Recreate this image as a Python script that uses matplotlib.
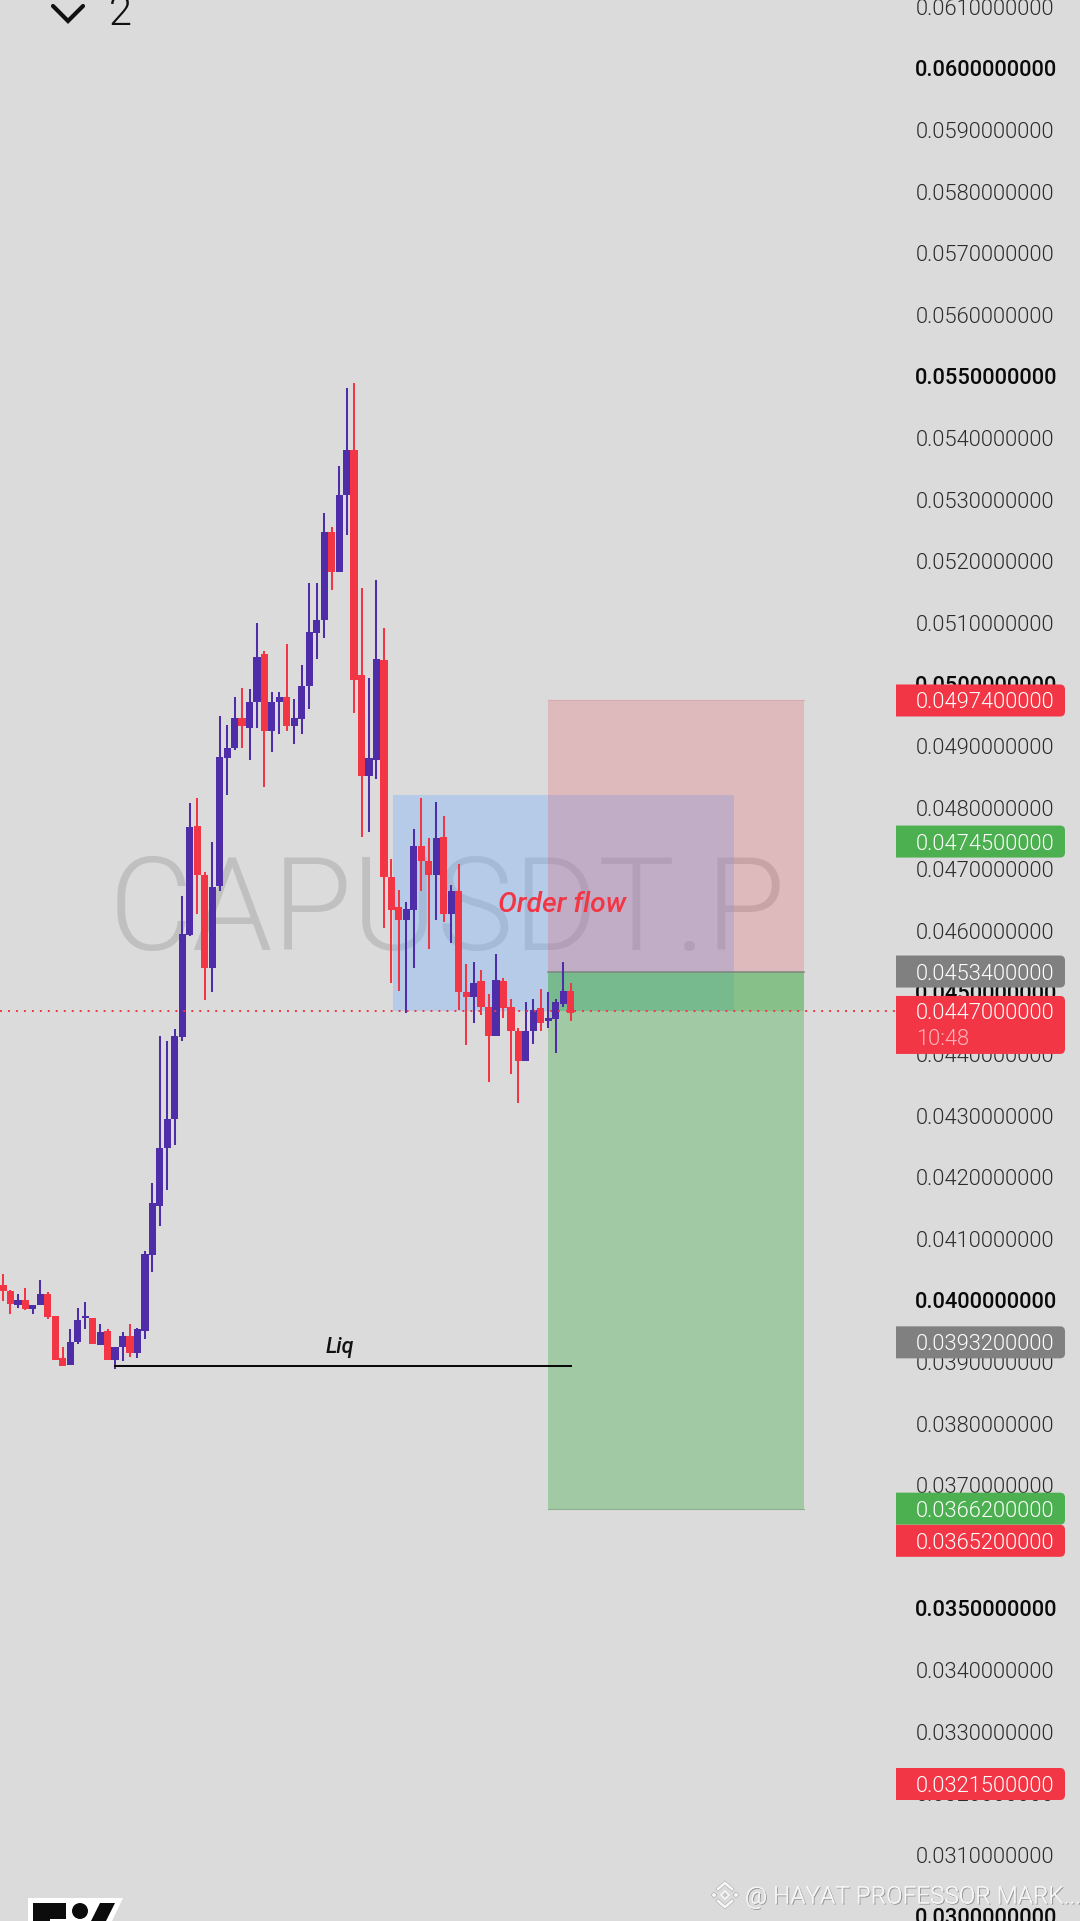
import numpy as np
import matplotlib
matplotlib.use("Agg")
import matplotlib.pyplot as plt
from matplotlib.patches import PathPatch, Polygon, Circle
from matplotlib.path import Path
from matplotlib.transforms import Affine2D
import matplotlib.patheffects as pe

# ---- data (prices in thousandths of USDT) ----
opens = [40.25,40.16,39.93,40.00,39.86,39.92,40.10,39.74,39.06,38.95,39.32,39.72,39.72,39.28,39.50,39.03,39.24,39.43,39.14,39.51,
         40.74,41.54,42.48,42.95,44.27,45.94,47.71,46.91,45.39,46.73,48.80,48.97,49.46,49.29,49.71,50.49,49.24,49.71,49.79,49.33,
         49.44,49.97,50.83,51.04,52.47,51.83,53.07,53.80,50.15,48.52,48.78,50.39,46.87,46.38,46.17,46.34,47.38,47.14,46.91,47.52,
         46.27,46.64,45.01,44.93,45.18,44.77,44.30,45.19,44.76,44.38,43.88,44.37,44.74,44.53,44.57,44.82,45.03]
highs = [40.43,40.17,40.10,40.21,39.93,40.34,40.13,39.74,39.24,39.54,39.87,39.97,39.72,39.61,39.54,39.25,39.48,39.61,39.56,40.81,
         41.90,44.30,44.22,44.41,46.57,48.08,48.16,46.96,47.45,49.49,49.35,49.79,49.95,49.92,50.99,50.55,49.87,49.87,50.66,49.77,
         50.31,51.64,51.65,52.79,52.55,53.54,54.82,54.89,51.56,50.10,51.69,50.92,47.16,46.67,46.47,47.66,48.16,47.50,48.10,47.86,
         46.75,47.08,45.47,45.49,45.37,44.97,45.62,45.24,44.90,44.43,44.85,44.90,45.05,45.00,44.90,45.49,45.16]
lows = [39.99,39.78,39.88,39.84,39.78,39.92,39.70,39.03,38.93,38.95,39.30,39.54,39.29,39.27,39.03,38.88,39.01,39.09,39.07,39.37,
        40.47,41.21,41.80,42.53,44.22,45.92,46.28,44.87,45.01,46.65,48.21,48.93,48.97,48.78,49.30,48.34,48.91,49.19,49.25,49.03,
        49.20,49.61,50.41,50.76,51.53,51.82,52.42,49.53,47.53,47.60,48.47,46.05,45.16,45.03,44.67,45.40,46.65,45.71,46.18,46.14,
        45.81,44.71,44.15,44.51,44.64,43.54,44.30,44.59,43.68,43.21,43.88,44.17,44.38,44.43,44.02,44.77,44.53]
closes = [40.15,39.95,40.00,39.86,39.92,40.10,39.73,39.04,38.93,39.33,39.69,39.74,39.29,39.48,39.03,39.25,39.43,39.14,39.53,40.76,
          41.59,42.48,42.95,44.30,45.95,47.69,46.91,45.40,46.72,48.83,48.97,49.46,49.32,49.72,50.45,49.24,49.72,49.80,49.33,49.46,
          49.97,50.86,51.05,52.48,51.83,53.08,53.81,50.08,48.51,48.81,50.41,46.87,46.34,46.17,46.36,47.37,47.14,46.91,47.50,46.27,
          46.65,45.00,44.93,45.16,44.76,44.29,45.21,44.74,44.37,43.88,44.38,44.72,44.51,44.59,44.85,45.03,44.66]
up_flag = [0,0,1,0,1,1,0,0,0,1,1,1,0,1,0,1,1,0,1,1,1,1,1,1,1,1,0,0,1,1,1,1,0,1,1,0,1,1,0,1,1,1,1,1,0,1,1,0,0,1,1,0,0,0,1,1,0,0,1,0,
           1,0,0,1,0,0,1,0,0,0,1,1,0,1,1,1,0]

tick_prices = list(range(30, 62))
strong_ticks = [30, 35, 40, 45, 50, 55, 60]

position_entry = 45.34
position_stop = 49.74
position_target = 36.62
last_price = 44.70
range_top = 48.20
range_bottom = 44.70
liq_price = 38.94

# candle index spans
range_span = (52.2, 97.9)
position_span = (73.0, 107.2)
liq_span = (15.0, 76.0)

# axis labels: price, colour, pixel shift for collision avoidance
label_prices = [49.74, 47.45, 45.34, 44.70, 39.32, 36.62, 36.52, 32.15]
label_kinds = ['red', 'green', 'gray', 'red', 'gray', 'green', 'red', 'red']
label_shift = [0, 0, 0, 0, 0, 0, 26, 0]

BG = '#DBDBDB'
BLUE = '#4F2DA8'
RED = '#F23645'
GREEN = '#4CAF50'
GRAY = '#808080'
KIND = {'red': RED, 'green': GREEN, 'gray': GRAY}

K = 1e-3
W, H = 1080, 1921
fig = plt.figure(figsize=(W / 100, H / 100), dpi=100, facecolor=BG)
ax = fig.add_axes([0, 0, 1, 1], facecolor=BG)
for s in ax.spines.values():
    s.set_visible(False)
ax.set_xlim(-0.4016, 144.18)
ax.set_ylim(29.926 * K, 61.112 * K)

px = Affine2D().scale(1, -1).translate(0, H)   # screen pixels, top-left origin
FONT = 'Roboto'
LABEL_SIZE = 15.75

# axis tick labels
ax.set_xticks([])
ax.yaxis.tick_right()
ax.set_yticks([t * K for t in tick_prices])
ax.set_yticklabels([f'{t * K:.10f}' for t in tick_prices], family=FONT)
ax.tick_params(axis='y', length=0, pad=-118.6, labelsize=LABEL_SIZE, labelcolor='#2b2b2b')
for lab, t in zip(ax.get_yticklabels(), tick_prices):
    if t in strong_ticks:
        lab.set_fontweight(500)
        lab.set_color('#0a0a0a')
    else:
        lab.set_fontweight(300)

# watermark symbol
ax.text(447, 914, 'CAPUSDT.P', transform=px, family=FONT, fontweight=300, fontsize=93,
        color='#C0C0C0', ha='center', va='center', zorder=0.5)

# range box and position tool
ax.fill_between(range_span, range_bottom * K, range_top * K, color='#7EB3FB', alpha=0.4, lw=0, zorder=1)
ax.fill_between(position_span, position_entry * K, position_stop * K, color=RED, alpha=0.2, lw=0, zorder=1.1)
ax.fill_between(position_span, position_target * K, position_entry * K, color=GREEN, alpha=0.4, lw=0, zorder=1.1)
ax.fill_between(position_span, last_price * K, position_entry * K, color=GREEN, alpha=0.3, lw=0, zorder=1.2)
ax.plot(position_span, [position_entry * K] * 2, color='#7B877B', lw=1.1, zorder=1.3)
ax.plot(position_span, [position_target * K] * 2, color='#8FB08F', lw=0.8, zorder=1.3)
ax.plot(position_span, [position_stop * K] * 2, color='#D9A9AE', lw=0.8, zorder=1.3)

# candles
x = np.arange(len(opens))
o, h, l, c = [np.array(a) * K for a in (opens, highs, lows, closes)]
colors = [BLUE if f else RED for f in up_flag]
ax.vlines(x, l, h, colors=colors, lw=1.45, zorder=2)
ax.bar(x, np.abs(c - o), bottom=np.minimum(o, c), width=0.96, color=colors, lw=0, zorder=2.1)

# last price line
ax.plot([-0.4, 119.5], [last_price * K] * 2, color=RED, lw=1.4, ls=(0, (1, 3.1)), zorder=2.2)

# liquidity line and notes
ax.plot(liq_span, [liq_price * K] * 2, color='#0a0a0a', lw=1.45, zorder=2.3)
ax.text(340, 1347, 'Liq', transform=px, family=FONT, style='italic', fontweight=500, fontsize=15.5,
        color='#111111', ha='center', va='center', zorder=2.4)
ax.text(562, 904, 'Order flow', transform=px, family=FONT, style='italic', fontweight=500, fontsize=20.3,
        color=RED, ha='center', va='center', zorder=2.4)


def price_y(p):
    return H - ax.transData.transform((0, p * K))[1]


def tag(top, bottom, color):
    l_, r_, rad = 896, 1065, 5
    verts = [(l_, top), (r_ - rad, top), (r_, top), (r_, top + rad), (r_, bottom - rad), (r_, bottom),
             (r_ - rad, bottom), (l_, bottom), (l_, top)]
    codes = [Path.MOVETO, Path.LINETO, Path.CURVE3, Path.CURVE3, Path.LINETO, Path.CURVE3, Path.CURVE3,
             Path.LINETO, Path.CLOSEPOLY]
    ax.add_patch(PathPatch(Path(verts, codes), transform=px, facecolor=color, edgecolor='none', zorder=3))


for p, kind, sh in zip(label_prices, label_kinds, label_shift):
    yc = price_y(p) + sh
    if p == last_price:
        tag(yc - 15, yc + 43, KIND[kind])
        ax.text(916, yc + 26, '10:48', transform=px, family=FONT, fontweight=300, fontsize=LABEL_SIZE,
                color='#FFB4BC', ha='left', va='center_baseline', zorder=3.1)
    else:
        tag(yc - 16, yc + 16, KIND[kind])
    ax.text(916, yc, f'{p * K:.10f}', transform=px, family=FONT, fontweight=300, fontsize=LABEL_SIZE,
            color='#FFFFFF', ha='left', va='center_baseline', zorder=3.1)

# top-left interval control
ax.plot([53, 68, 83], [6, 21, 6], transform=px, color='#111111', lw=3, solid_capstyle='round',
        solid_joinstyle='miter', zorder=4)
ax.text(109, 25, '2', transform=px, family=FONT, fontweight=300, fontsize=30, color='#111111',
        ha='left', va='baseline', zorder=4)

# brand logo, lower left
ax.add_patch(Polygon([(28, 1898), (123, 1898), (112, 1921), (28, 1921)], transform=px, fc='white', ec='none', zorder=4))
ax.add_patch(Polygon([(33, 1903), (66, 1903), (66, 1919), (50, 1919), (50, 1921), (33, 1921)], transform=px, fc='#0c0c0c', ec='none', zorder=4.1))
ax.add_patch(Circle((80, 1911), 8, transform=px, fc='#0c0c0c', ec='none', zorder=4.1))
ax.add_patch(Polygon([(100, 1903), (115, 1903), (106, 1921), (91, 1921)], transform=px, fc='#0c0c0c', ec='none', zorder=4.1))

# repost watermark, lower right
shadow = [pe.withSimplePatchShadow(offset=(0.8, -0.8), shadow_rgbFace='#8a8a8a', alpha=0.8), pe.Normal()]
stroke = [pe.Stroke(linewidth=2.6, foreground='#A6A6A6'), pe.Normal()]
cx, cy = 725, 1895
for sgn in (-1, 1):
    ax.plot([cx - 7, cx, cx + 7], [cy + sgn * 6, cy + sgn * 12, cy + sgn * 6], transform=px, color='#F6F6F6',
            lw=1.9, solid_joinstyle='miter', zorder=4, path_effects=stroke)
    ax.add_patch(Polygon([(cx + sgn * 11 - 3, cy), (cx + sgn * 11, cy - 3), (cx + sgn * 11 + 3, cy), (cx + sgn * 11, cy + 3)],
                         transform=px, fc='#F6F6F6', ec='#A6A6A6', lw=0.4, zorder=4))
ax.add_patch(Polygon([(cx - 4, cy), (cx, cy - 4), (cx + 4, cy), (cx, cy + 4)], transform=px, fc='#C9C9C9',
                     ec='#F6F6F6', lw=1.2, zorder=4))
ax.text(745, 1897, '@ HAYAT PROFESSOR MARK...', transform=px, family=FONT, fontweight=300, fontsize=17.5,
        color='#F6F6F6', ha='left', va='center', zorder=4, path_effects=shadow)

fig.savefig('out.png', dpi=100, facecolor=BG)
